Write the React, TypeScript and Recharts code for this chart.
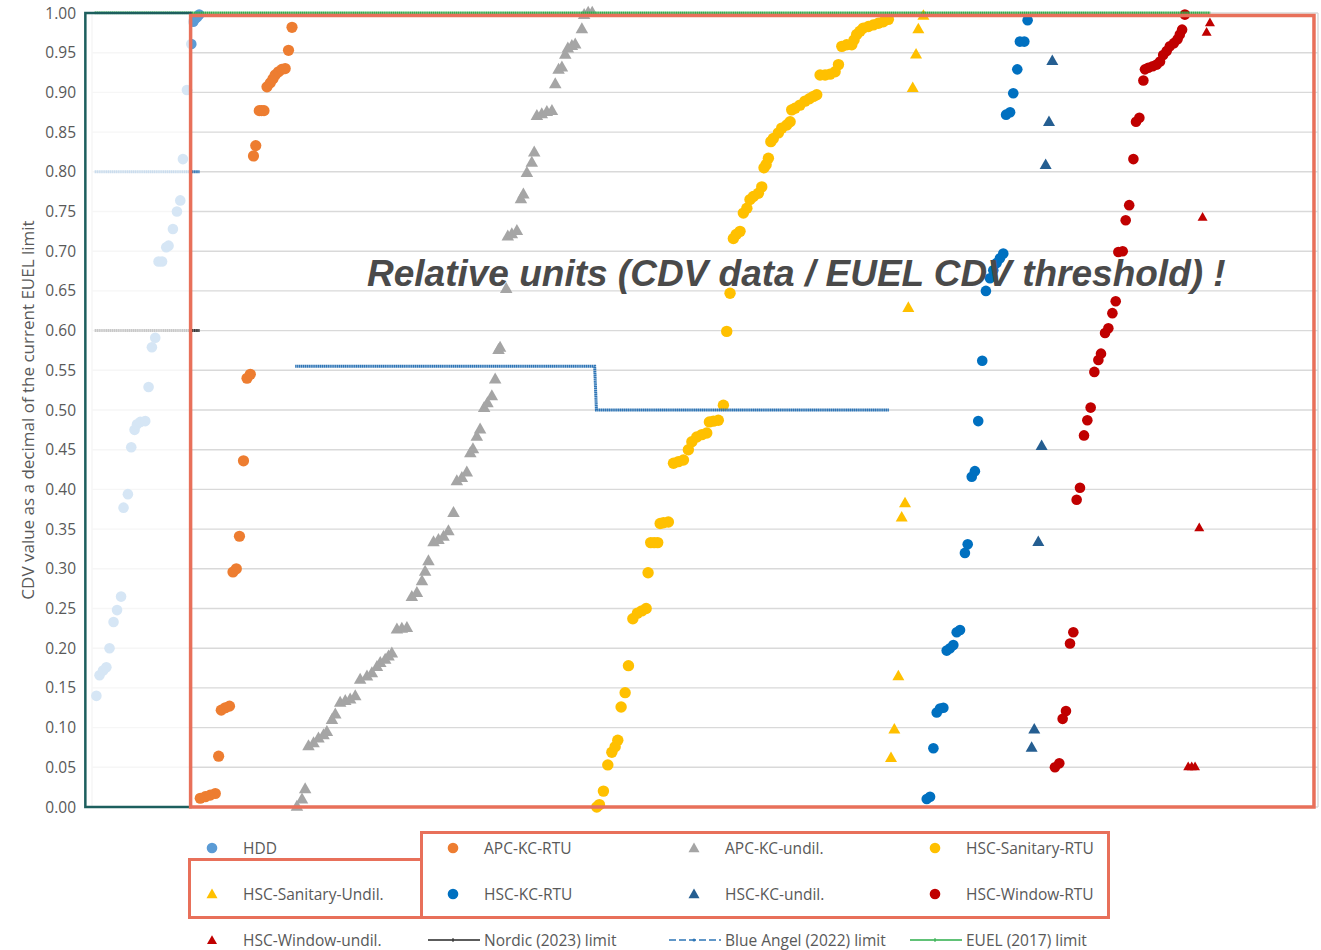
import React from "react";
import { ComposedChart, Scatter, XAxis, YAxis, CartesianGrid, ReferenceArea } from "recharts";

type P = [number, number];

// sample index (sorted by value) vs CDV / EUEL limit
const hdd: P[] = [
  [2.5, 0.14], [4.3, 0.166], [6.3, 0.172], [8.2, 0.176], [10, 0.2], [12.3, 0.233], [14.3, 0.248],
  [16.6, 0.265], [18, 0.377], [20.5, 0.394], [22.4, 0.453], [24.3, 0.475], [25.7, 0.482], [27.6, 0.485],
  [30.4, 0.486], [32.3, 0.529], [34.2, 0.579], [36.1, 0.591], [38, 0.687], [40, 0.687], [42.4, 0.705],
  [43.7, 0.707], [46.2, 0.728], [48.5, 0.75], [50.4, 0.764], [51.9, 0.816], [54.2, 0.903], [56.7, 0.961],
  [57.8, 0.989], [59, 0.993], [60.1, 0.995], [61.2, 0.998],
];
const apcRtu: P[] = [
  [61.8, 0.011], [64.7, 0.013], [67.5, 0.015], [70.4, 0.017], [72.3, 0.064], [73.8, 0.122], [76.1, 0.125],
  [78.5, 0.127], [80.5, 0.296], [82.4, 0.3], [84.2, 0.341], [86.5, 0.436], [88.5, 0.54], [90.4, 0.545],
  [92.2, 0.82], [93.5, 0.833], [95.5, 0.877], [96.8, 0.877], [98.2, 0.877], [99.9, 0.907], [101.8, 0.912],
  [103.3, 0.917], [104.6, 0.922], [106.5, 0.926], [108.4, 0.929], [110.3, 0.93], [112.2, 0.953], [114.2, 0.982],
];
const apcUndil: P[] = [
  [117, 0], [119.9, 0.009], [121.7, 0.022], [123.6, 0.076], [126.5, 0.08], [129.3, 0.086], [132.2, 0.09],
  [134.1, 0.094], [137, 0.109], [138.9, 0.116], [141.7, 0.131], [144.6, 0.133], [147.4, 0.135], [150.3, 0.139],
  [153.1, 0.16], [157, 0.164], [159.8, 0.168], [162.7, 0.176], [164.6, 0.181], [167.4, 0.185], [169.3, 0.189],
  [171.2, 0.193], [174.1, 0.223], [176.9, 0.224], [179.8, 0.225], [182.6, 0.264], [185.5, 0.269], [188.4, 0.284],
  [190.2, 0.296], [192.1, 0.309], [195, 0.333], [197.8, 0.336], [200.7, 0.34], [203.5, 0.347], [206.4, 0.37],
  [208.3, 0.41], [211.2, 0.414], [214, 0.421], [216, 0.445], [217.5, 0.45], [219.7, 0.466], [221.6, 0.475],
  [223.9, 0.502], [225.8, 0.508], [228.3, 0.517], [230.2, 0.538], [232.1, 0.575], [233, 0.578], [236.5, 0.652],
  [237.4, 0.718], [239.7, 0.721], [242.6, 0.725], [244.9, 0.765], [246.3, 0.771], [248.3, 0.798], [251.1, 0.811],
  [252.5, 0.824], [254, 0.87], [256.8, 0.872], [259.7, 0.875], [262.6, 0.876], [264.5, 0.91], [266.4, 0.928],
  [268.3, 0.931], [270.2, 0.947], [271.7, 0.955], [274, 0.958], [275.9, 0.96], [279.7, 0.979], [281, 0.997],
  [283.3, 1], [285.6, 1],
];
const sanRtu: P[] = [
  [288.2, 0], [289.7, 0.003], [292, 0.02], [294.5, 0.053], [296.8, 0.069], [298.7, 0.076], [300.2, 0.084],
  [302.1, 0.126], [304.4, 0.144], [306.3, 0.178], [308.8, 0.237], [311.4, 0.244], [313.9, 0.247], [316.4, 0.25],
  [317.5, 0.295], [319, 0.333], [321, 0.333], [323, 0.333], [324.4, 0.357], [326.3, 0.358], [329.1, 0.359],
  [332, 0.433], [334.8, 0.435], [337.7, 0.437], [340.5, 0.45], [342.5, 0.46], [345.3, 0.466], [348.2, 0.469],
  [351, 0.471], [352.5, 0.485], [354.8, 0.486], [357.6, 0.487], [360.5, 0.506], [362.4, 0.599], [364.3, 0.647],
  [366.2, 0.716], [367.8, 0.721], [370, 0.725], [371.9, 0.748], [373.9, 0.754], [375.7, 0.765], [377.6, 0.769],
  [380.5, 0.773], [382.4, 0.781], [383.7, 0.805], [384.9, 0.809], [386.2, 0.817], [387.6, 0.838], [389, 0.842],
  [391.9, 0.849], [393.8, 0.855], [396.7, 0.859], [398.6, 0.863], [399.5, 0.878], [401.4, 0.88], [404.2, 0.884],
  [407.1, 0.889], [409.6, 0.892], [411.9, 0.895], [413.8, 0.897], [415.7, 0.922], [418.6, 0.922], [421.4, 0.923],
  [424.3, 0.926], [426.2, 0.935], [428.1, 0.958], [430.9, 0.96], [433.8, 0.96], [435.1, 0.966], [436.6, 0.973],
  [438.5, 0.977], [440.4, 0.981], [443.3, 0.983], [446.1, 0.985], [449, 0.987], [451.8, 0.989], [454.7, 0.992],
];
const sanUndil: P[] = [
  [456.2, 0.061], [458.1, 0.097], [460.4, 0.164], [462.3, 0.364], [464.2, 0.382], [466.1, 0.628],
  [468.6, 0.905], [470.5, 0.947], [471.8, 0.979], [474.7, 0.996],
];
const kcRtu: P[] = [
  [476.6, 0.01], [478.5, 0.013], [480.4, 0.074], [482.3, 0.119], [484.2, 0.124], [486.1, 0.125], [488, 0.197],
  [489.9, 0.2], [491.8, 0.204], [493.7, 0.22], [495.6, 0.223], [498.4, 0.32], [500, 0.331], [502.3, 0.416],
  [504.1, 0.423], [506, 0.486], [508.3, 0.562], [510.4, 0.65], [512.7, 0.666], [514.6, 0.676], [516.5, 0.685],
  [518.4, 0.691], [520.3, 0.697], [521.9, 0.872], [524.2, 0.875], [526, 0.899], [528.3, 0.929], [529.8, 0.964],
  [532.3, 0.964], [534.2, 0.991],
];
const kcUndil: P[] = [
  [536.5, 0.074], [538, 0.097], [540.3, 0.333], [542.2, 0.454], [544.5, 0.808], [546.4, 0.862], [548.3, 0.939],
];
const winRtu: P[] = [
  [549.8, 0.05], [552.3, 0.055], [554.2, 0.111], [556.1, 0.121], [558.4, 0.206], [560.3, 0.22], [562.2, 0.387],
  [564.1, 0.402], [566.4, 0.468], [568.3, 0.487], [570.2, 0.503], [572.3, 0.548], [574.6, 0.563], [576.1, 0.571],
  [578.4, 0.597], [580.3, 0.603], [582.6, 0.622], [584.5, 0.637], [586, 0.699], [588.5, 0.7], [590.2, 0.739],
  [592.2, 0.758], [594.6, 0.816], [596.1, 0.863], [598, 0.868], [600.3, 0.915], [601.2, 0.929], [603.1, 0.931],
  [605.6, 0.933], [607.9, 0.935], [609.8, 0.939], [611.6, 0.947], [613.6, 0.952], [615.4, 0.958], [617.7, 0.962],
  [619.8, 0.967], [621.1, 0.973], [622.4, 0.979], [624, 0.998],
];
const winUndil: P[] = [
  [625.9, 0.05], [627.9, 0.05], [629.8, 0.05], [632.2, 0.351], [634.1, 0.742], [636.4, 0.975], [638.3, 0.987],
];

// limit lines
const nordic: P[] = [[1.5, 0.6], [61.5, 0.6]];
const blueAngelHdd: P[] = [[1.5, 0.8], [61.5, 0.8]];
const blueAngel: P[] = [[116, 0.555], [287, 0.555], [288, 0.5], [455, 0.5]];
const euel: P[] = [[1.5, 1], [638.5, 1]];

const yTicks = [0, 0.05, 0.1, 0.15, 0.2, 0.25, 0.3, 0.35, 0.4, 0.45, 0.5, 0.55, 0.6, 0.65, 0.7, 0.75, 0.8, 0.85, 0.9, 0.95, 1];
const xTicks = [0, 100, 200, 300, 400, 500, 600, 700];

const pts = (a: P[]) => a.map(([x, y]) => ({ x, y }));

type Kind = "circle" | "triangle" | "line" | "dash";
type Series = { name: string; data: P[]; color: string; kind: Kind; size: number };

const series: Series[] = [
  { name: "HDD", data: hdd, color: "#5B9BD5", kind: "circle", size: 5.3 },
  { name: "APC-KC-RTU", data: apcRtu, color: "#ED7D31", kind: "circle", size: 5.6 },
  { name: "APC-KC-undil.", data: apcUndil, color: "#A5A5A5", kind: "triangle", size: 12.5 },
  { name: "HSC-Sanitary-RTU", data: sanRtu, color: "#FFC000", kind: "circle", size: 5.7 },
  { name: "HSC-Sanitary-Undil.", data: sanUndil, color: "#FFC000", kind: "triangle", size: 12 },
  { name: "HSC-KC-RTU", data: kcRtu, color: "#0070C0", kind: "circle", size: 5.3 },
  { name: "HSC-KC-undil.", data: kcUndil, color: "#255E91", kind: "triangle", size: 12 },
  { name: "HSC-Window-RTU", data: winRtu, color: "#C00000", kind: "circle", size: 5.3 },
  { name: "HSC-Window-undil.", data: winUndil, color: "#C00000", kind: "triangle", size: 10 },
];

const limits = [
  { name: "Nordic (2023) limit", parts: [nordic], color: "#262626", kind: "line" as Kind },
  { name: "Blue Angel (2022) limit", parts: [blueAngelHdd, blueAngel], color: "#2E75B6", kind: "dash" as Kind },
  { name: "EUEL (2017) limit", parts: [euel], color: "#2DAE4A", kind: "line" as Kind },
];

const triPath = (cx: number, cy: number, w: number) => {
  const h = w * 0.88;
  return `M${cx},${cy - (h * 2) / 3}L${cx + w / 2},${cy + h / 3}L${cx - w / 2},${cy + h / 3}Z`;
};

const markShape = (s: Series) => (p: any) =>
  s.kind === "circle" ? (
    <circle cx={p.cx} cy={p.cy} r={s.size} fill={s.color} />
  ) : (
    <path d={triPath(p.cx, p.cy, s.size)} fill={s.color} />
  );

const noShape = () => <g />;

const TEXT = "#595959";

function LegendMark({ kind, color, size }: { kind: Kind; color: string; size: number }) {
  return (
    <svg width={56} height={20} style={{ flex: "none", marginLeft: -3 }}>
      {kind === "circle" && <circle cx={25} cy={10} r={Math.min(size, 5.3)} fill={color} />}
      {kind === "triangle" && <path d={triPath(25, 11, Math.min(size, 11))} fill={color} />}
      {kind === "line" && (
        <g>
          <line x1={0} x2={52} y1={10} y2={10} stroke={color} strokeWidth={1.5} />
          <line x1={25} x2={25} y1={8} y2={12} stroke={color} strokeWidth={1} />
        </g>
      )}
      {kind === "dash" && (
        <g>
          <line x1={0} x2={52} y1={10} y2={10} stroke={color} strokeWidth={1.5} strokeDasharray="7 3" />
          <circle cx={25} cy={10} r={1.5} fill={color} />
        </g>
      )}
    </svg>
  );
}

const legendItems = [
  ...series.map((s) => ({ name: s.name, color: s.color, kind: s.kind, size: s.size })),
  ...limits.map((l) => ({ name: l.name, color: l.color, kind: l.kind, size: 0 })),
];

export default function App() {
  return (
    <div style={{ position: "absolute", left: 0, top: 0, width: 1321, height: 950, fontFamily: "'Open Sans', sans-serif", background: "#fff" }}>
      <ComposedChart width={1321} height={950} margin={{ top: 13, right: 3, bottom: 142, left: 32 }}>
        <CartesianGrid stroke="#d9d9d9" strokeWidth={1.4} />
        <XAxis type="number" dataKey="x" domain={[0, 700]} ticks={xTicks} tick={false} tickLine={false} axisLine={false} height={1} />
        <YAxis
          type="number"
          dataKey="y"
          domain={[0, 1]}
          ticks={yTicks}
          width={60}
          tickLine={false}
          axisLine={false}
          tickSize={0}
          tickMargin={16}
          tick={{ fill: TEXT, fontSize: 15.5 }}
          tickFormatter={(v: number) => v.toFixed(2)}
          label={(props: any) => {
            const vb = props.viewBox;
            const cx = vb.x - 5;
            const cy = vb.y + vb.height / 2;
            return (
              <text x={cx} y={cy} transform={`rotate(-90 ${cx} ${cy})`} textAnchor="middle" dominantBaseline="central" fill={TEXT} fontSize={17}>
                CDV value as a decimal of the current EUEL limit
              </text>
            );
          }}
        />
        {series.map((s) => (
          <Scatter key={s.name} name={s.name} data={pts(s.data)} shape={markShape(s)} isAnimationActive={false} />
        ))}
        {limits.flatMap((l) =>
          l.parts.map((part, i) => (
            <Scatter
              key={l.name + i}
              name={l.name}
              data={pts(part)}
              line={{ stroke: l.color, strokeWidth: 3, strokeDasharray: "1.5 0.4" }}
              lineType="joint"
              shape={noShape}
              isAnimationActive={false}
            />
          ))
        )}
        <ReferenceArea x1={-3.8} x2={56.3} y1={0} y2={1} ifOverflow="visible" fill="#ffffff" fillOpacity={0.75} stroke="#1D5F5E" strokeWidth={2.5} zIndex={1500} />
        <ReferenceArea x1={56.3} x2={697.7} y1={0} y2={0.997} ifOverflow="visible" fill="none" stroke="#E8705A" strokeWidth={3.5} zIndex={1600} />
      </ComposedChart>

      <svg width={1321} height={950} style={{ position: "absolute", left: 0, top: 0, pointerEvents: "none" }}>
        <text x={367} y={286} fontFamily="'Liberation Sans', Arial, sans-serif" fontWeight="bold" fontStyle="italic" fontSize={37} fill="#4A4A4A">
          Relative units (CDV data / EUEL CDV threshold) !
        </text>
      </svg>

      <div
        style={{
          position: "absolute",
          left: 190,
          top: 825,
          display: "grid",
          gridTemplateColumns: "241px 241px 241px 241px",
          gridAutoRows: "46px",
        }}
      >
        {legendItems.map((it) => (
          <div key={it.name} style={{ display: "flex", alignItems: "center", color: TEXT, fontSize: 15.5, whiteSpace: "nowrap" }}>
            <LegendMark kind={it.kind} color={it.color} size={it.size} />
            <span>{it.name}</span>
          </div>
        ))}
      </div>

      <div style={{ position: "absolute", left: 188.2, top: 858.2, width: 234.5, height: 60.5, border: "3.5px solid #E8705A", boxSizing: "border-box" }} />
      <div style={{ position: "absolute", left: 420, top: 831.2, width: 689.5, height: 87.5, border: "3.5px solid #E8705A", boxSizing: "border-box" }} />
    </div>
  );
}
